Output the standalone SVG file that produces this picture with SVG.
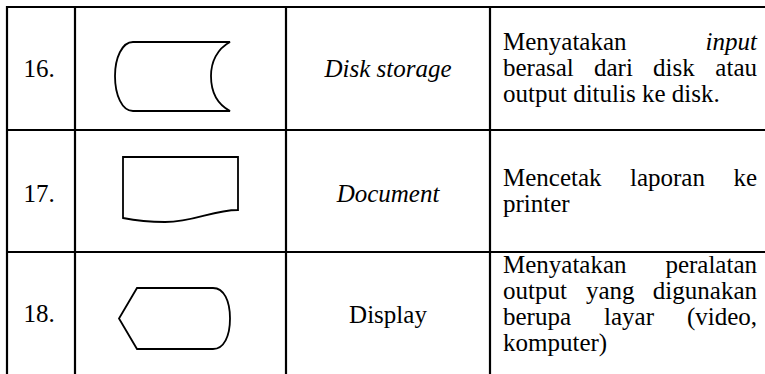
<svg xmlns="http://www.w3.org/2000/svg" width="765" height="374" viewBox="0 0 765 374">
<style>
.t{font-family:"Liberation Serif","Times New Roman",serif;font-size:25px;fill:#000}
.i{font-style:italic}
.g{stroke:#000;stroke-width:2.2;fill:none}
.s{stroke:#000;stroke-width:1.8;fill:#fff;stroke-linejoin:miter}
</style>
<rect width="765" height="374" fill="#fff"/>
<g id="grid">
<line class="g" x1="6" y1="7" x2="765" y2="7"/>
<line class="g" x1="6" y1="130" x2="765" y2="130"/>
<line class="g" x1="6" y1="252" x2="765" y2="252"/>
<line class="g" x1="7" y1="6" x2="7" y2="374"/>
<line class="g" x1="75" y1="6" x2="75" y2="374"/>
<line class="g" x1="286" y1="6" x2="286" y2="374"/>
<line class="g" x1="490" y1="6" x2="490" y2="374"/>
</g>
<g id="row16">
<text class="t" x="39" y="77" text-anchor="middle">16.</text>
<path id="disk" class="s" d="M133,42 H230 C217,49 211,62 211,76 C211,91 217,104 230,111 H133 C122,111 115,95 115,76 C115,58 122,42 133,42 Z"/>
<text class="t i" x="388" y="77" text-anchor="middle">Disk storage</text>
<text class="t" x="503" y="50">Menyatakan</text>
<text class="t i" x="757" y="50" text-anchor="end">input</text>
<text class="t" y="76"><tspan x="503">berasal</tspan><tspan x="594">dari</tspan><tspan x="653">disk</tspan></text>
<text class="t" x="757" y="76" text-anchor="end">atau</text>
<text class="t" x="503" y="102">output ditulis ke disk.</text>
</g>
<g id="row17">
<text class="t" x="39" y="202" text-anchor="middle">17.</text>
<path id="document" class="s" d="M123,157 H238 V210 C212,210 195,222 165,222 C147,222 133,220 123,218 Z"/>
<text class="t i" x="388" y="202" text-anchor="middle">Document</text>
<text class="t" y="186"><tspan x="503">Mencetak</tspan><tspan x="630">laporan</tspan></text>
<text class="t" x="757" y="186" text-anchor="end">ke</text>
<text class="t" x="503" y="212">printer</text>
</g>
<g id="row18">
<text class="t" x="39" y="322" text-anchor="middle">18.</text>
<path id="display" class="s" d="M137,288 H213 C224,288 230,301 230,318.5 C230,336 224,349 213,349 H137 L119,318.5 Z"/>
<text class="t" x="388" y="323" text-anchor="middle">Display</text>
<text class="t" x="503" y="273">Menyatakan</text>
<text class="t" x="757" y="273" text-anchor="end">peralatan</text>
<text class="t" y="299"><tspan x="503">output</tspan><tspan x="586">yang</tspan></text>
<text class="t" x="757" y="299" text-anchor="end">digunakan</text>
<text class="t" y="325"><tspan x="503">berupa</tspan><tspan x="604">layar</tspan></text>
<text class="t" x="757" y="325" text-anchor="end">(video,</text>
<text class="t" x="503" y="351">komputer)</text>
</g>
</svg>
